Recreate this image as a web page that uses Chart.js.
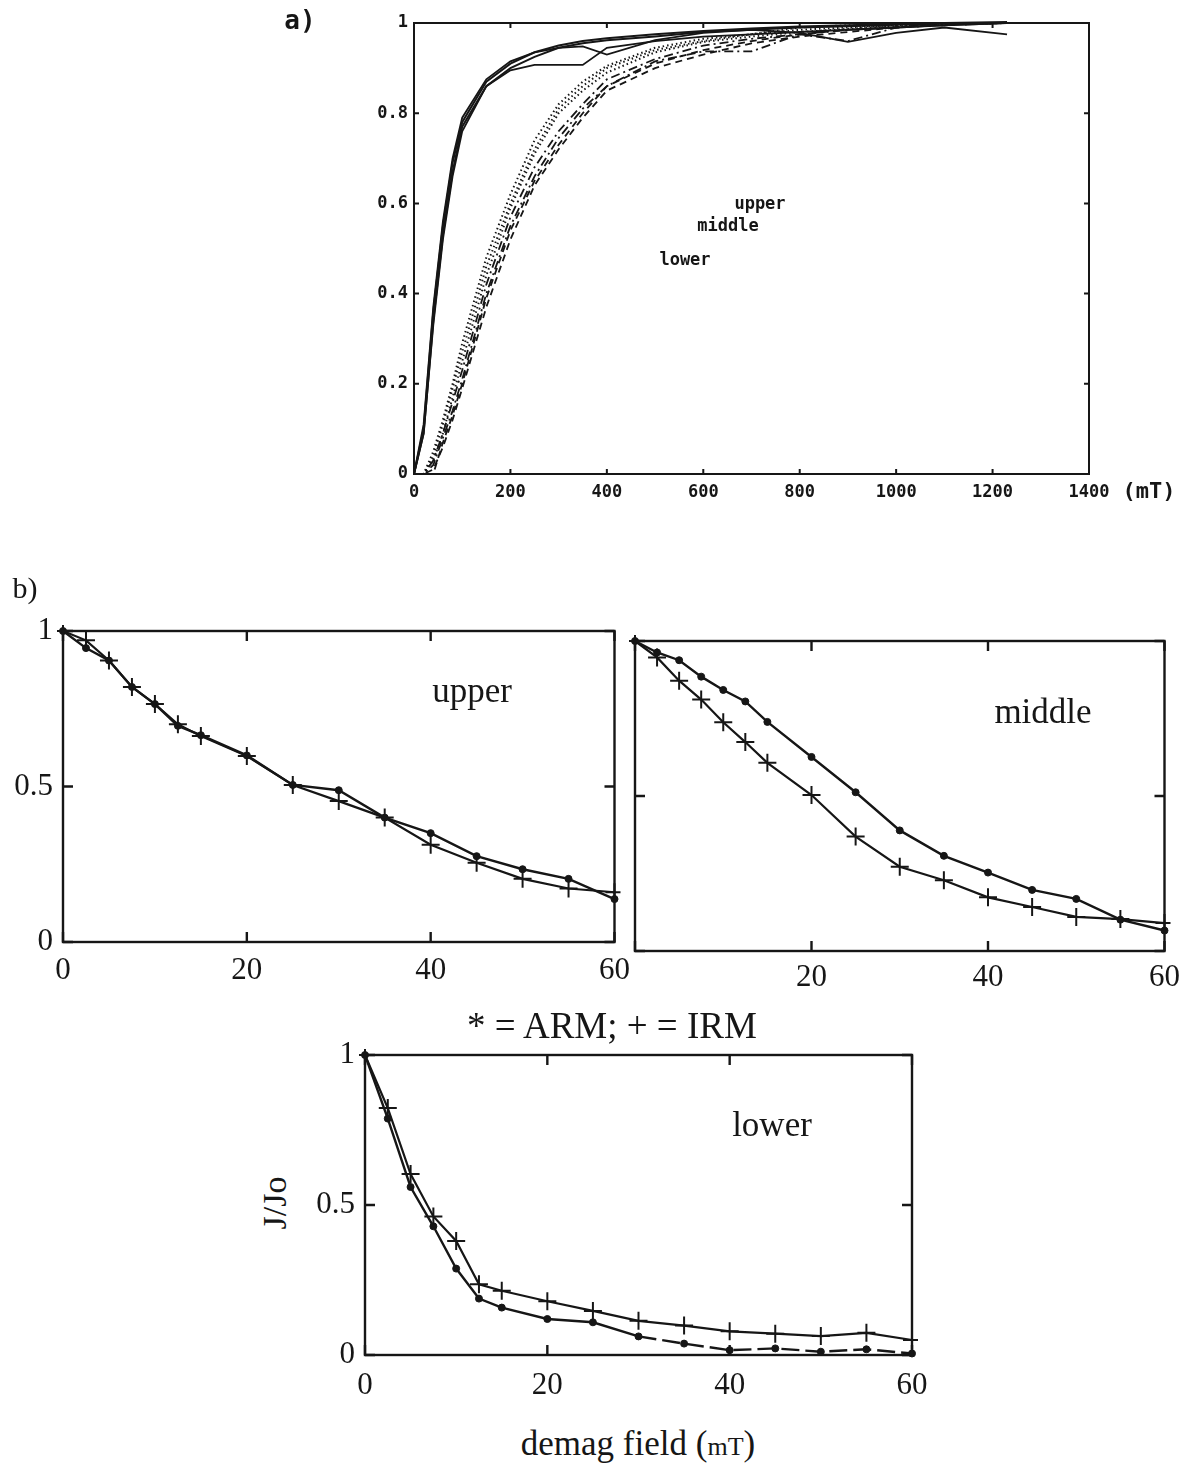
<!DOCTYPE html>
<html>
<head>
<meta charset="utf-8">
<script src="https://cdn.jsdelivr.net/npm/chart.js@4.4.1/dist/chart.umd.min.js"></script>
<style>
  html, body { margin: 0; padding: 0; background: #fff; }
  body { width: 1188px; height: 1466px; position: relative; overflow: hidden; }
  canvas { position: absolute; }
  .lbl { position: absolute; transform: translate(-50%, -50%); white-space: nowrap; color: #161616; line-height: 1; }
  .mono { font-family: 'DejaVu Sans Mono', 'Liberation Mono', monospace; font-weight: bold; }
  .serif { font-family: 'Liberation Serif', 'DejaVu Serif', serif; }
</style>
</head>
<body>
<canvas id="chartA" width="918" height="520" style="left:270px;top:0px"></canvas>
<canvas id="chartUpper" width="640" height="410" style="left:0px;top:590px"></canvas>
<canvas id="chartMiddle" width="588" height="410" style="left:600px;top:590px"></canvas>
<canvas id="chartLower" width="640" height="420" style="left:300px;top:1000px"></canvas>

<div class="lbl mono" style="left:300px;top:20px;font-size:26px">a)</div>
<div class="lbl mono" style="left:1149px;top:491px;font-size:22px">(mT)</div>
<div class="lbl mono" style="left:760px;top:203px;font-size:17px">upper</div>
<div class="lbl mono" style="left:728px;top:225px;font-size:17px">middle</div>
<div class="lbl mono" style="left:685px;top:259px;font-size:17px">lower</div>

<div class="lbl serif" style="left:25px;top:588px;font-size:30px">b)</div>
<div class="lbl serif" style="left:472px;top:690px;font-size:35px">upper</div>
<div class="lbl serif" style="left:1043px;top:711px;font-size:35px">middle</div>
<div class="lbl serif" style="left:772px;top:1124px;font-size:35px">lower</div>
<div class="lbl serif" style="left:612px;top:1025px;font-size:37px">* = ARM; + = IRM</div>
<div class="lbl serif" style="left:275px;top:1203px;font-size:34px;transform:translate(-50%,-50%) rotate(-90deg)">J/Jo</div>
<div class="lbl serif" style="left:638px;top:1443px;font-size:35px">demag field (<span style="font-size:26px">mT</span>)</div>

<script>
const INK = '#161616';

// ---- a) IRM acquisition curves (field in mT, normalised J/Jmax) ----
const FIELD_A = [0, 20, 40, 60, 80, 100, 150, 200, 250, 300, 350, 400, 500, 600, 700, 800, 900, 1000, 1100, 1230];
// solid
const UP_1 = [0, 0.10, 0.36, 0.55, 0.69, 0.78, 0.87, 0.91, 0.935, 0.95, 0.96, 0.966, 0.975, 0.982, 0.988, 0.992, 0.995, 0.998, 1.0, 1.002];
const UP_2 = [0, 0.09, 0.34, 0.53, 0.67, 0.77, 0.86, 0.90, 0.925, 0.945, 0.955, 0.962, 0.970, 0.98, 0.985, 0.99, 0.993, 0.996, 0.999, 1.0];
const UP_3 = [0, 0.09, 0.33, 0.52, 0.66, 0.76, 0.86, 0.895, 0.907, 0.907, 0.907, 0.945, 0.96, 0.97, 0.975, 0.98, 0.985, 0.99, 0.995, 1.0];
const UP_4 = [0, 0.11, 0.37, 0.56, 0.70, 0.79, 0.875, 0.915, 0.935, 0.945, 0.948, 0.93, 0.962, 0.978, 0.985, 0.978, 0.958, 0.978, 0.99, 0.975];
// dotted
const MID_1 = [0, 0, 0.05, 0.12, 0.20, 0.29, 0.48, 0.62, 0.74, 0.82, 0.87, 0.905, 0.945, 0.965, 0.975, 0.985, 0.99, 0.995, 0.998, 1.0];
const MID_2 = [0, 0, 0.03, 0.09, 0.17, 0.25, 0.44, 0.59, 0.71, 0.80, 0.85, 0.89, 0.935, 0.958, 0.97, 0.98, 0.987, 0.993, 0.997, 1.0];
const MID_3 = [0, 0, 0.04, 0.11, 0.19, 0.27, 0.46, 0.60, 0.72, 0.81, 0.86, 0.90, 0.94, 0.96, 0.975, 0.99, 0.995, 0.99, 1.0, 1.0];
// dashed / dash-dot
const LOW_1 = [0, 0, 0, 0.07, 0.13, 0.20, 0.39, 0.54, 0.65, 0.73, 0.80, 0.86, 0.91, 0.94, 0.96, 0.975, 0.985, 0.99, 0.995, 1.0];
const LOW_2 = [0, 0, 0.02, 0.08, 0.14, 0.21, 0.40, 0.55, 0.66, 0.745, 0.81, 0.86, 0.915, 0.937, 0.937, 0.975, 0.96, 0.99, 1.0, 1.0];
const LOW_3 = [0, 0, 0.01, 0.06, 0.12, 0.19, 0.37, 0.52, 0.64, 0.72, 0.79, 0.85, 0.90, 0.93, 0.955, 0.97, 0.98, 0.99, 0.995, 1.0];
const LOW_4 = [0, 0, 0.03, 0.09, 0.16, 0.23, 0.42, 0.57, 0.68, 0.76, 0.82, 0.875, 0.92, 0.95, 0.965, 0.975, 0.985, 0.99, 0.998, 1.0];

const A_X_TICKS = [0, 200, 400, 600, 800, 1000, 1200, 1400];
const A_Y_TICKS = [0, 0.2, 0.4, 0.6, 0.8, 1];

// ---- b) AF demagnetisation (field in mT, J/Jo) ----
const FIELD_B = [0, 2.5, 5, 7.5, 10, 12.5, 15, 20, 25, 30, 35, 40, 45, 50, 55, 60];
const UPPER_ARM = [1, 0.945, 0.905, 0.82, 0.765, 0.695, 0.665, 0.60, 0.505, 0.488, 0.40, 0.35, 0.276, 0.234, 0.203, 0.138];
const UPPER_IRM = [1, 0.97, 0.905, 0.82, 0.765, 0.70, 0.662, 0.598, 0.505, 0.453, 0.40, 0.313, 0.255, 0.203, 0.172, 0.16];
const MIDDLE_ARM = [1, 0.963, 0.938, 0.885, 0.842, 0.805, 0.739, 0.626, 0.512, 0.389, 0.307, 0.253, 0.197, 0.168, 0.101, 0.066];
const MIDDLE_IRM = [1, 0.947, 0.872, 0.811, 0.738, 0.674, 0.607, 0.503, 0.369, 0.272, 0.228, 0.173, 0.142, 0.11, 0.103, 0.09];
const LOWER_ARM = [1, 0.788, 0.56, 0.429, 0.288, 0.188, 0.158, 0.12, 0.109, 0.062, 0.038, 0.016, 0.022, 0.011, 0.019, 0.005];
const LOWER_IRM = [1, 0.823, 0.603, 0.462, 0.38, 0.236, 0.214, 0.179, 0.147, 0.114, 0.098, 0.079, 0.071, 0.063, 0.074, 0.05];

const B_X_TICKS = [0, 20, 40, 60];
const B_Y_TICKS = [0, 0.5, 1];

// box round the plot area with inward tick marks on all four sides
const boxPlugin = {
  id: 'box',
  afterDatasetsDraw(chart, args, opts) {
    const { ctx, chartArea: a, scales } = chart;
    const x = scales.x, y = scales.y;
    ctx.save();
    ctx.strokeStyle = INK;
    ctx.lineWidth = opts.width;
    ctx.strokeRect(a.left, a.top, a.right - a.left, a.bottom - a.top);
    const len = opts.tickLen;
    ctx.beginPath();
    opts.xTicks.forEach(v => {
      const px = x.getPixelForValue(v);
      ctx.moveTo(px, a.bottom); ctx.lineTo(px, a.bottom - len);
      ctx.moveTo(px, a.top); ctx.lineTo(px, a.top + len);
    });
    opts.yTicks.forEach(v => {
      const py = y.getPixelForValue(v);
      ctx.moveTo(a.left, py); ctx.lineTo(a.left + len, py);
      ctx.moveTo(a.right, py); ctx.lineTo(a.right - len, py);
    });
    ctx.stroke();
    ctx.restore();
  }
};

function pts(xs, ys) {
  return xs.map((x, i) => ({ x: x, y: ys[i] }));
}

function makeChart(id, datasets, cfg) {
  return new Chart(document.getElementById(id), {
    type: 'scatter',
    data: { datasets: datasets },
    plugins: [boxPlugin],
    options: {
      responsive: false,
      animation: false,
      devicePixelRatio: 1,
      layout: { padding: cfg.padding },
      plugins: {
        legend: { display: false },
        tooltip: { enabled: false },
        box: { width: cfg.boxWidth, tickLen: cfg.tickLen, xTicks: cfg.xTicks, yTicks: cfg.yTicks },
      },
      scales: {
        x: {
          type: 'linear',
          min: cfg.xTicks[0],
          max: cfg.xTicks[cfg.xTicks.length - 1],
          grid: { display: false, drawTicks: false },
          border: { display: false },
          afterBuildTicks: s => { s.ticks = cfg.xTicks.map(v => ({ value: v })); },
          afterFit: s => { s.height = cfg.xHeight; },
          ticks: {
            color: INK,
            padding: cfg.xPad,
            font: cfg.font,
            maxRotation: 0,
            autoSkip: false,
            callback: cfg.xLabel || (v => String(v)),
          },
        },
        y: {
          type: 'linear',
          min: cfg.yTicks[0],
          max: cfg.yTicks[cfg.yTicks.length - 1],
          grid: { display: false, drawTicks: false },
          border: { display: false },
          afterBuildTicks: s => { s.ticks = cfg.yTicks.map(v => ({ value: v })); },
          afterFit: s => { s.width = cfg.yWidth; },
          ticks: {
            display: cfg.yLabels !== false,
            color: INK,
            padding: cfg.yPad,
            font: cfg.font,
            callback: v => String(v),
          },
        },
      },
    },
  });
}

// ---- a) ----
function lineA(data, dash, width) {
  return {
    data: pts(FIELD_A, data),
    showLine: true,
    borderColor: INK,
    borderWidth: width,
    borderDash: dash,
    pointRadius: 0,
    tension: 0,
    clip: 6,
  };
}
const DOT = [1.5, 3];
const DASH = [7, 5];
const DASHDOT = [9, 4, 2, 4];

makeChart('chartA', [
  lineA(UP_1, [], 2), lineA(UP_2, [], 2), lineA(UP_3, [], 1.8), lineA(UP_4, [], 1.8),
  lineA(MID_1, DOT, 2), lineA(MID_2, DOT, 2), lineA(MID_3, DOT, 2),
  lineA(LOW_1, DASH, 1.8), lineA(LOW_2, DASHDOT, 1.8), lineA(LOW_3, DASH, 1.8), lineA(LOW_4, DASHDOT, 1.8),
], {
  padding: { left: 0, top: 23, right: 99, bottom: 0 },
  xHeight: 46, yWidth: 144, xPad: 8, yPad: 6,
  boxWidth: 2, tickLen: 5,
  xTicks: A_X_TICKS, yTicks: A_Y_TICKS,
  font: { family: "'DejaVu Sans Mono', monospace", weight: 'bold', size: 17 },
});

// ---- b) ----
function armSet(data, dashFrom) {
  return {
    data: pts(FIELD_B, data),
    showLine: true,
    borderColor: INK,
    backgroundColor: INK,
    borderWidth: 2.4,
    pointStyle: 'circle',
    pointRadius: 3.5,
    pointBorderWidth: 1,
    tension: 0,
    clip: 6,
    segment: dashFrom === undefined ? undefined : {
      borderDash: c => c.p0.parsed.x >= dashFrom ? [18, 6] : undefined,
    },
  };
}
function irmSet(data) {
  return {
    data: pts(FIELD_B, data),
    showLine: true,
    borderColor: INK,
    backgroundColor: INK,
    borderWidth: 2.2,
    pointStyle: 'cross',
    pointRadius: 9,
    pointBorderWidth: 2,
    tension: 0,
    clip: 6,
  };
}
const SERIF = { family: "'Liberation Serif', serif", size: 31 };

makeChart('chartUpper', [armSet(UPPER_ARM), irmSet(UPPER_IRM)], {
  padding: { left: 0, top: 41, right: 25, bottom: 0 },
  xHeight: 58, yWidth: 63, xPad: 10, yPad: 10,
  boxWidth: 2.4, tickLen: 10,
  xTicks: B_X_TICKS, yTicks: B_Y_TICKS,
  font: SERIF,
});

makeChart('chartMiddle', [armSet(MIDDLE_ARM), irmSet(MIDDLE_IRM)], {
  padding: { left: 0, top: 51, right: 12, bottom: 0 },
  xHeight: 49, yWidth: 35, xPad: 8, yPad: 10,
  boxWidth: 2.4, tickLen: 10,
  xTicks: B_X_TICKS, yTicks: B_Y_TICKS,
  yLabels: false,
  xLabel: v => v === 0 ? '' : String(v),
  font: SERIF,
});

makeChart('chartLower', [armSet(LOWER_ARM, 30), irmSet(LOWER_IRM)], {
  padding: { left: 0, top: 55, right: 28, bottom: 0 },
  xHeight: 65, yWidth: 65, xPad: 12, yPad: 10,
  boxWidth: 2.4, tickLen: 10,
  xTicks: B_X_TICKS, yTicks: B_Y_TICKS,
  font: SERIF,
});
</script>
</body>
</html>
